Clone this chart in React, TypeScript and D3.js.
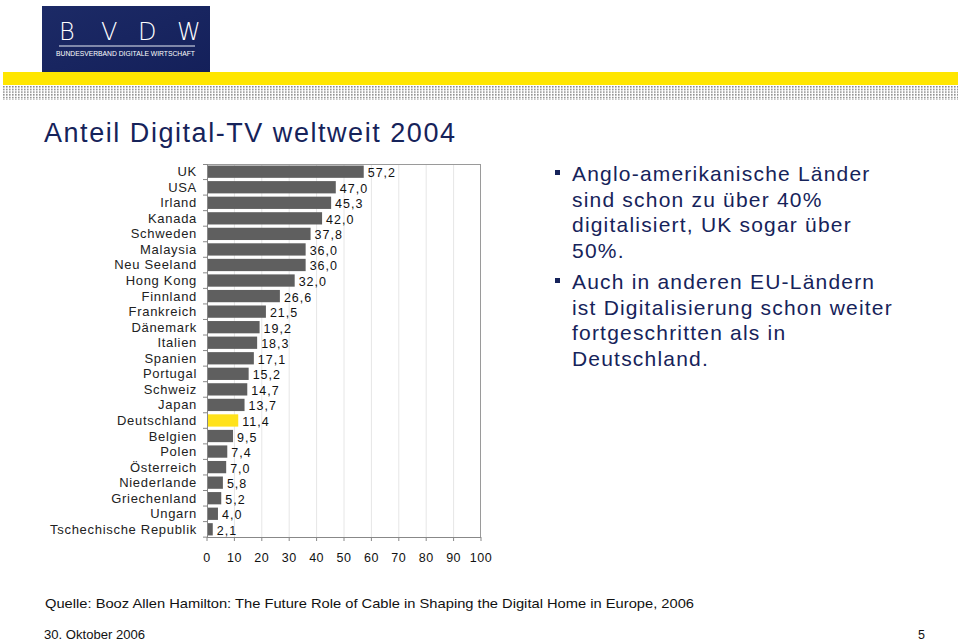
import React from "react";
import * as d3 from "d3";

const categories = ["UK","USA","Irland","Kanada","Schweden","Malaysia","Neu Seeland","Hong Kong","Finnland","Frankreich","Dänemark","Italien","Spanien","Portugal","Schweiz","Japan","Deutschland","Belgien","Polen","Österreich","Niederlande","Griechenland","Ungarn","Tschechische Republik"];
const values = [57.2,47.0,45.3,42.0,37.8,36.0,36.0,32.0,26.6,21.5,19.2,18.3,17.1,15.2,14.7,13.7,11.4,9.5,7.4,7.0,5.8,5.2,4.0,2.1];
const highlight = "Deutschland";
const xTicks = [0,10,20,30,40,50,60,70,80,90,100];
const bullets = [
  ["Anglo-amerikanische Länder","sind schon zu über 40%","digitalisiert, UK sogar über","50%."],
  ["Auch in anderen EU-Ländern","ist Digitalisierung schon weiter","fortgeschritten als in","Deutschland."],
];
const title = "Anteil Digital-TV weltweit 2004";
const source = "Quelle:  Booz Allen Hamilton: The Future Role of Cable in Shaping the Digital Home in Europe, 2006";
const footerDate = "30. Oktober 2006";
const pageNo = "5";

const NAVY = "#16235a";
const FONT = "'Liberation Sans', Arial, sans-serif";

export default function App() {
  const x = d3.scaleLinear().domain([0, 100]).range([207, 481]);
  const y = d3.scaleBand<string>().domain(categories).range([164, 537]).paddingInner(0.21).paddingOuter(0.1);
  const step = y.step();
  const fmt = (v: number) => v.toFixed(1).replace(".", ",");

  return (
    <svg width={960} height={642} style={{ position: "absolute", left: 0, top: 0, background: "#fff" }} fontFamily={FONT}>
      <defs>
        <pattern id="dots" x={3} y={86} width={3} height={2.7} patternUnits="userSpaceOnUse">
          <rect x={0} y={0} width={1.6} height={1.5} fill="#8a8a8a" />
        </pattern>
        <linearGradient id="logoG" x1="0" y1="0" x2="1" y2="1">
          <stop offset="0" stopColor="#1c2a66" />
          <stop offset="1" stopColor="#14205a" />
        </linearGradient>
      </defs>
      <rect x={0} y={0} width={960} height={642} fill="#fff" />
      {/* header band */}
      <rect x={3} y={72} width={955} height={13} fill="#ffe600" />
      <rect x={3} y={86} width={955} height={14} fill="url(#dots)" />
      {/* logo */}
      <rect x={42} y={6} width={168} height={66} fill="url(#logoG)" />
      {["B","V","D","W"].map((c, i) => (
        <text key={c} x={[59,101,138,177][i]} y={40} fill="#fff" fontSize={24} fontFamily="'DejaVu Sans', sans-serif" fontWeight={300}>{c}</text>
      ))}
      <line x1={59} x2={195} y1={46} y2={46} stroke="#e8ecf5" strokeWidth={1} />
      <text x={56} y={56} fill="#fff" fontSize={7.4} textLength={139} lengthAdjust="spacingAndGlyphs">BUNDESVERBAND DIGITALE WIRTSCHAFT</text>

      {/* title */}
      <text x={44} y={142} fill={NAVY} fontSize={27} textLength={411} lengthAdjust="spacing">{title}</text>

      {/* plot frame & grid */}
      {xTicks.slice(1, -1).map(t => (
        <line key={t} x1={x(t)} x2={x(t)} y1={164} y2={537} stroke="#e6e6e6" strokeWidth={1} />
      ))}
      <line x1={207} x2={481} y1={164.5} y2={164.5} stroke="#9a9a9a" />
      <line x1={480.5} x2={480.5} y1={164} y2={537} stroke="#9a9a9a" />
      <line x1={207} x2={481} y1={537.5} y2={537.5} stroke="#888" />
      <line x1={207.5} x2={207.5} y1={164} y2={537} stroke="#888" />
      {categories.map((c, i) => (
        <line key={"lt" + i} x1={203} x2={207} y1={164 + step * (i + 1)} y2={164 + step * (i + 1)} stroke="#888" />
      ))}
      <line x1={203} x2={207} y1={164.5} y2={164.5} stroke="#888" />
      {xTicks.map(t => (
        <line key={"bt" + t} x1={x(t)} x2={x(t)} y1={537} y2={541} stroke="#888" />
      ))}

      {/* bars */}
      {categories.map((c, i) => (
        <g key={c}>
          <rect x={x(0) + 1} y={y(c)!} width={x(values[i]) - x(0) - 1} height={y.bandwidth()} fill={c === highlight ? "#ffe21a" : "#5f5f5f"} />
          <text x={x(values[i]) + 4} y={y(c)! + y.bandwidth() / 2 + 5.5} fontSize={12.5} fill="#111" letterSpacing={1}>{fmt(values[i])}</text>
          <text x={197} y={y(c)! + y.bandwidth() / 2 + 4.5} fontSize={13} fill="#222" textAnchor="end" letterSpacing={0.7}>{c}</text>
        </g>
      ))}

      {/* x tick labels */}
      {xTicks.map(t => (
        <text key={"xl" + t} x={x(t)} y={562} fontSize={12.5} fill="#111" textAnchor="middle" letterSpacing={0.5}>{t}</text>
      ))}

      {/* bullets */}
      {bullets.map((lines, bi) => {
        const base = [181, 289][bi];
        return (
          <g key={bi}>
            <rect x={555} y={base - 11} width={5} height={5} fill={NAVY} />
            {lines.map((l, li) => (
              <text key={li} x={572} y={base + li * 25.7} fontSize={21} fill={NAVY} letterSpacing={1.2}>{l}</text>
            ))}
          </g>
        );
      })}

      {/* source & footer */}
      <text x={45} y={608} fontSize={13} fill="#111" textLength={649} lengthAdjust="spacingAndGlyphs">{source}</text>
      <text x={44} y={639} fontSize={12.5} fill="#111" textLength={101} lengthAdjust="spacingAndGlyphs">{footerDate}</text>
      <text x={925} y={639} fontSize={12.5} fill="#111" textAnchor="end">{pageNo}</text>
    </svg>
  );
}
